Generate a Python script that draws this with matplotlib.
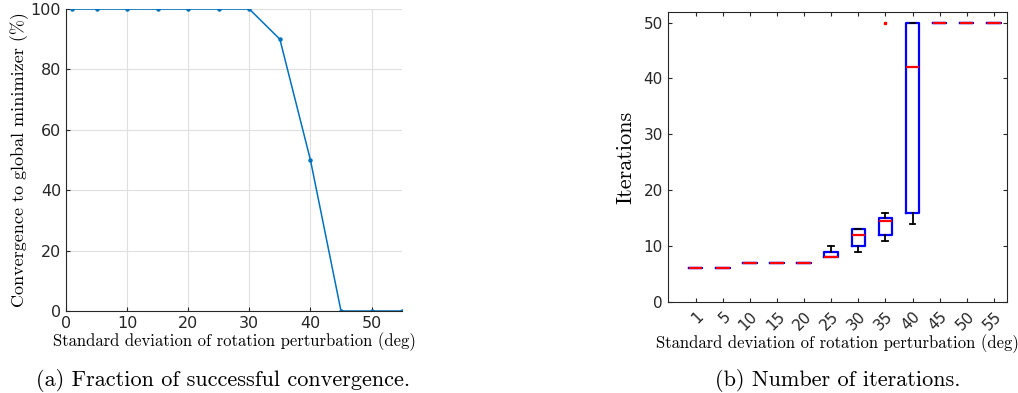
import matplotlib
matplotlib.use("Agg")
import matplotlib.pyplot as plt
import numpy as np

# (a) convergence fraction
sigma = [1, 5, 10, 15, 20, 25, 30, 35, 40, 45, 50, 55]
conv_pct = [100, 100, 100, 100, 100, 100, 100, 90, 50, 0, 0, 0]

# (b) iteration box stats per sigma
labels = ['1', '5', '10', '15', '20', '25', '30', '35', '40', '45', '50', '55']
med = [6, 6, 7, 7, 7, 8, 12, 14.5, 42, 50, 50, 50]
q1 = [6, 6, 7, 7, 7, 8, 10, 12, 16, 50, 50, 50]
q3 = [6, 6, 7, 7, 7, 9, 13, 15, 50, 50, 50, 50]
whislo = [6, 6, 7, 7, 7, 8, 9, 11, 14, 50, 50, 50]
whishi = [6, 6, 7, 7, 7, 10, 13, 16, 50, 50, 50, 50]
fliers = [[], [], [], [], [], [], [], [50], [], [], [], []]

serif = 'cmr10'
sans = 'DejaVu Sans'
mblue = '#0072BD'

fig = plt.figure(figsize=(10.18, 3.93), dpi=100)

ax1 = fig.add_axes([0.0648, 0.2087, 0.3302, 0.7683])
ax1.plot(sigma, conv_pct, '-', color=mblue, lw=1.1, marker='o', ms=2.2)
ax1.set_xlim(0, 55)
ax1.set_ylim(0, 100)
ax1.set_xticks([0, 10, 20, 30, 40, 50])
ax1.set_yticks([0, 20, 40, 60, 80, 100])
ax1.grid(True, color='#dfdfdf', lw=0.8)
ax1.set_axisbelow(True)
for s in ['top', 'right']:
    ax1.spines[s].set_visible(False)
for s in ['left', 'bottom']:
    ax1.spines[s].set_color('#262626')
ax1.tick_params(direction='in', length=3, colors='#262626', labelsize=11.5)
for t in ax1.get_xticklabels() + ax1.get_yticklabels():
    t.set_family(sans)
ax1.set_xlabel('Standard deviation of rotation perturbation (deg)', family=serif,
               fontsize=12, labelpad=1)
ax1.set_ylabel('Convergence to global minimizer (%)', family=serif, fontsize=13,
               labelpad=1)

ax2 = fig.add_axes([0.656, 0.2316, 0.333, 0.7379])
stats = []
for i in range(len(labels)):
    stats.append(dict(med=med[i], q1=q1[i], q3=q3[i], whislo=whislo[i],
                      whishi=whishi[i], fliers=fliers[i]))
pos = np.arange(1, len(labels) + 1)
ax2.bxp(stats, positions=pos, widths=0.5,
        boxprops=dict(color='blue', lw=1.6),
        medianprops=dict(color='red', lw=1.6),
        whiskerprops=dict(color='black', lw=1.3),
        capprops=dict(color='black', lw=1.3),
        capwidths=0.22,
        flierprops=dict(marker='s', markersize=2, markerfacecolor='red',
                        markeredgecolor='red'))
ax2.set_xlim(-0.03, 12.48)
ax2.set_ylim(0, 51.9)
ax2.set_yticks([0, 10, 20, 30, 40, 50])
ax2.set_xticks(pos)
ax2.set_xticklabels(labels, rotation=45, ha='right', va='top',
                    rotation_mode='anchor')
for s in ax2.spines.values():
    s.set_color('#262626')
ax2.tick_params(direction='in', length=3, colors='#262626', labelsize=11,
                top=True, right=True)
ax2.tick_params(axis='x', pad=5)
for t in ax2.get_xticklabels() + ax2.get_yticklabels():
    t.set_family(sans)
ax2.set_xlabel('Standard deviation of rotation perturbation (deg)', family=serif,
               fontsize=12, labelpad=1)
ax2.set_ylabel('Iterations', family=serif, fontsize=16, labelpad=6)

fig.text(0.219, 0.018, '(a) Fraction of successful convergence.', family=serif,
         fontsize=16, ha='center', va='baseline')
fig.text(0.823, 0.018, '(b) Number of iterations.', family=serif,
         fontsize=16, ha='center', va='baseline')

fig.savefig('out.png', dpi=100)
